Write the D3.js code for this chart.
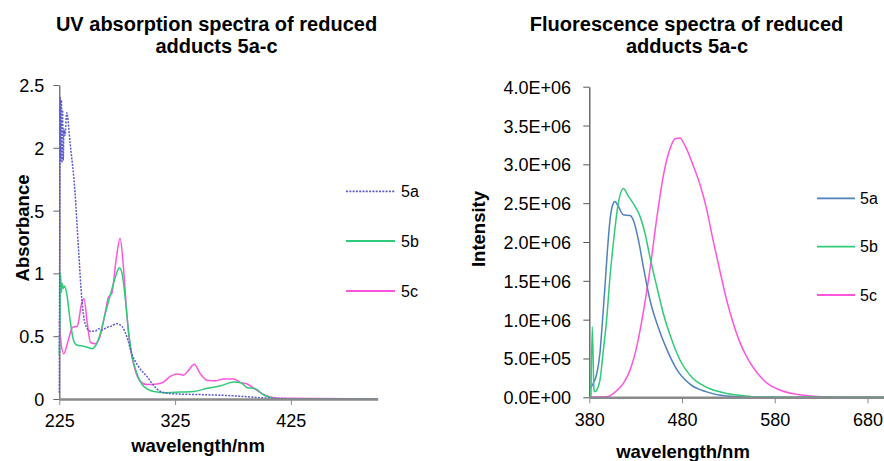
<!DOCTYPE html>
<html>
<head>
<meta charset="utf-8">
<script src="https://cdn.jsdelivr.net/npm/d3@7"></script>
<style>
  html, body { margin: 0; padding: 0; background: #fff; }
  svg { display: block; }
  text { font-family: "Liberation Sans", Arial, sans-serif; fill: #000; }
</style>
</head>
<body>
<svg id="chart" width="884" height="461"></svg>
<script>
// ---------------- DATA ----------------
const seriesNames = ["5a", "5b", "5c"];

// UV absorption (left chart)
const uvWl5a  = [225, 225.3, 225.8, 226.3, 226.8, 227.3, 227.8, 228.4, 229, 230, 231.4, 234.3, 238.6, 241.5, 244.5, 247.3, 251.7, 255.9, 258.8, 262, 266, 270, 274.6, 278.9, 283.2, 287.6, 293.3, 300.6, 308.2, 315.4, 327, 347, 376, 399.5, 420, 450, 500];
const uvAbs5a = [0.05, 1.0, 2.4, 1.9, 2.38, 1.88, 2.3, 1.9, 2.15, 2.1, 2.28, 2.04, 1.64, 1.21, 0.79, 0.60, 0.54, 0.54, 0.56, 0.55, 0.57, 0.58, 0.60, 0.58, 0.50, 0.36, 0.26, 0.18, 0.09, 0.05, 0.04, 0.035, 0.025, 0.01, 0.003, 0.002, 0.0];

const uvWl5b  = [225, 225.5, 226, 226.8, 227.5, 228.5, 229.5, 231.4, 234.3, 237.2, 240.1, 245.9, 250, 253.1, 256, 260.4, 264.7, 269.1, 273.4, 276.9, 279.2, 282.1, 285, 287.9, 292.2, 298, 306.7, 318.2, 329.8, 341.3, 352.9, 364.4, 376, 381.8, 387.5, 393.3, 402, 410.6, 420, 500];
const uvAbs5b = [0.35, 0.65, 1.0, 0.85, 0.92, 0.88, 0.9, 0.84, 0.63, 0.47, 0.43, 0.42, 0.41, 0.40, 0.42, 0.52, 0.68, 0.83, 0.97, 1.045, 1.0, 0.79, 0.52, 0.34, 0.20, 0.10, 0.06, 0.05, 0.055, 0.06, 0.085, 0.106, 0.135, 0.13, 0.09, 0.085, 0.03, 0.005, 0.0, 0.0];

const uvWl5c  = [225, 226.5, 228.8, 232.8, 236.5, 240.5, 244.3, 246.3, 249.2, 252, 255.9, 260.2, 264.5, 267.4, 270.3, 274.1, 277.5, 280.4, 283.3, 286.2, 290.5, 294.9, 300.6, 309.3, 315, 320.8, 326.6, 332.4, 336.7, 341.6, 346.8, 352.6, 359.8, 367, 375.7, 381.5, 387.3, 393, 401.7, 410.4, 422, 500];
const uvAbs5c = [0.62, 0.45, 0.36, 0.47, 0.57, 0.58, 0.76, 0.80, 0.60, 0.45, 0.44, 0.50, 0.68, 0.81, 0.84, 1.11, 1.28, 1.05, 0.68, 0.42, 0.23, 0.14, 0.115, 0.12, 0.135, 0.18, 0.20, 0.19, 0.23, 0.276, 0.20, 0.15, 0.145, 0.16, 0.16, 0.13, 0.12, 0.085, 0.035, 0.01, 0.005, 0.0];

const uvXTicks = [225, 325, 425];
const uvYTicks = [0, 0.5, 1, 1.5, 2, 2.5];
const uvYTickLabels = ["0", "0.5", "1", "1.5", "2", "2.5"];

// Fluorescence (right chart)
const flWl5a  = [380.8, 384.3, 388, 391.5, 394, 396.9, 399.6, 402.3, 405, 407.7, 411.3, 416.7, 423.9, 427.5, 432.9, 438.3, 445.5, 454.4, 463.5, 474.3, 488.6, 506.6, 528.2, 546, 600, 700];
const flInt5a = [0.12e6, 0.18e6, 0.30e6, 0.57e6, 0.95e6, 1.43e6, 1.90e6, 2.28e6, 2.47e6, 2.52e6, 2.46e6, 2.35e6, 2.34e6, 2.28e6, 2.03e6, 1.68e6, 1.25e6, 0.90e6, 0.62e6, 0.36e6, 0.17e6, 0.07e6, 0.017e6, 0.005e6, 0, 0];

const flWl5b  = [381.8, 383.2, 385.1, 386.1, 387.2, 391.5, 395.1, 398.7, 402.3, 405.9, 411.3, 416.7, 422.1, 429.3, 434.7, 440.1, 445.5, 452.7, 459.8, 468.9, 477.8, 492.2, 503, 510.2, 528.2, 546.1, 560, 600, 700];
const flInt5b = [0, 0.91e6, 0.09e6, 0.07e6, 0.08e6, 0.22e6, 0.60e6, 1.0e6, 1.55e6, 1.98e6, 2.5e6, 2.69e6, 2.59e6, 2.46e6, 2.33e6, 2.11e6, 1.80e6, 1.43e6, 1.08e6, 0.74e6, 0.48e6, 0.24e6, 0.15e6, 0.11e6, 0.05e6, 0.02e6, 0.005e6, 0, 0];

const flWl5c  = [380, 390, 400, 405, 410, 416.7, 423.9, 431.1, 438.3, 445.5, 452.7, 459.8, 467, 472.5, 477.8, 483.2, 492.2, 499.4, 506.6, 513, 521, 528.2, 535.3, 542, 549.8, 557, 564.1, 572, 582.1, 600, 618, 636, 660, 700];
const flInt5c = [0, 0.005e6, 0.01e6, 0.04e6, 0.09e6, 0.18e6, 0.35e6, 0.65e6, 1.1e6, 1.65e6, 2.3e6, 2.85e6, 3.2e6, 3.33e6, 3.34e6, 3.24e6, 2.98e6, 2.74e6, 2.42e6, 2.05e6, 1.62e6, 1.25e6, 0.95e6, 0.72e6, 0.52e6, 0.38e6, 0.27e6, 0.18e6, 0.11e6, 0.045e6, 0.018e6, 0.006e6, 0.001e6, 0];

const flXTicks = [380, 480, 580, 680];
const flYTicks = [0, 0.5e6, 1e6, 1.5e6, 2e6, 2.5e6, 3e6, 3.5e6, 4e6];
const flYTickLabels = ["0.0E+00", "5.0E+05", "1.0E+06", "1.5E+06", "2.0E+06", "2.5E+06", "3.0E+06", "3.5E+06", "4.0E+06"];

const uvTitle = ["UV absorption spectra of reduced", "adducts 5a-c"];
const flTitle = ["Fluorescence spectra of reduced", "adducts 5a-c"];
const xAxisTitle = "wavelength/nm";
const uvYAxisTitle = "Absorbance";
const flYAxisTitle = "Intensity";

// ---------------- STYLE ----------------
const TICK_FS = 18, LEG_FS = 16, TITLE_FS = 20, AXT_FS = 18.5;
const uvColors = { "5a": "#5a5ad0", "5b": "#2fcb78", "5c": "#ff55dd" };
const flColors = { "5a": "#4f81bd", "5b": "#2fcb78", "5c": "#ff55dd" };

const svg = d3.select("#chart");

function addText(parent, x, y, str, opt = {}) {
  const fs = opt.size || 14;
  const g = parent.append("g")
    .attr("transform", `translate(${x},${y}) rotate(${opt.rotate || 0})`);
  const t = g.append("text")
    .attr("text-anchor", opt.anchor || "middle")
    .attr("dy", opt.dy || "0")
    .style("font-size", fs + "px")
    .style("font-weight", opt.bold ? "bold" : "normal")
    .text(str);
  if (opt.bg) {
    const b = t.node().getBBox();
    const base = 0.36 * fs;
    g.insert("rect", "text")
      .attr("x", b.x - 2).attr("y", base - 0.76 * fs - 1)
      .attr("width", b.width + 4).attr("height", 0.76 * fs + 0.8)
      .attr("fill", "#fff");
  }
  return g;
}

function styleAxis(g, color, width) {
  g.select(".domain").attr("stroke", color).attr("stroke-width", width);
  g.selectAll(".tick line").attr("stroke", color).attr("stroke-width", 1);
  g.selectAll(".tick text")
    .style("font-family", '"Liberation Sans", Arial, sans-serif')
    .style("font-size", TICK_FS + "px").attr("fill", "#000");
}

// ---------------- LEFT CHART ----------------
const uvX = d3.scaleLinear().domain([225, 500]).range([59.3, 377.7]);
const uvY = d3.scaleLinear().domain([0, 2.5]).range([399, 85]);

const left = svg.append("g");

const uvYAxisG = left.append("g").attr("transform", `translate(${uvX(225)},0)`)
  .call(d3.axisLeft(uvY).tickValues(uvYTicks).tickSize(6).tickSizeOuter(0)
    .tickFormat((d, i) => uvYTickLabels[i]));
styleAxis(uvYAxisG, "#666", 1.3);
uvYAxisG.selectAll(".tick text").attr("x", -15).attr("dy", "0.36em");

const uvSets = {
  "5a": d3.zip(uvWl5a, uvAbs5a),
  "5b": d3.zip(uvWl5b, uvAbs5b),
  "5c": d3.zip(uvWl5c, uvAbs5c)
};
const uvLine = d3.line().x(d => uvX(d[0])).y(d => uvY(d[1])).curve(d3.curveMonotoneX);
["5c", "5b", "5a"].forEach(k => {
  left.append("path").datum(uvSets[k])
    .attr("d", uvLine)
    .attr("fill", "none")
    .attr("stroke", uvColors[k])
    .attr("stroke-width", 1.5)
    .attr("stroke-dasharray", k === "5a" ? "2,1.3" : null);
});

const uvXAxisG = left.append("g").attr("transform", `translate(0,${uvY(0)})`)
  .call(d3.axisBottom(uvX).tickValues(uvXTicks).tickSize(6).tickSizeOuter(0)
    .tickFormat(d3.format("d")));
styleAxis(uvXAxisG, "#8a8a8a", 2.5);
uvXAxisG.selectAll(".tick text").attr("y", 28).attr("dy", "0");

seriesNames.forEach((k, i) => {
  const ly = [191.3, 241, 291][i];
  left.append("line")
    .attr("x1", 346).attr("x2", 395).attr("y1", ly).attr("y2", ly)
    .attr("stroke", uvColors[k]).attr("stroke-width", 1.8)
    .attr("stroke-dasharray", k === "5a" ? "2,1.3" : null);
  addText(left, 401, ly, k, { anchor: "start", dy: "0.36em", size: LEG_FS });
});

addText(left, 216.5, 31, uvTitle[0], { bold: true, size: TITLE_FS });
addText(left, 216.5, 53, uvTitle[1], { bold: true, size: TITLE_FS });
addText(left, 198, 452, xAxisTitle, { bold: true, size: AXT_FS });
addText(left, 22, 228, uvYAxisTitle, { bold: true, size: AXT_FS, rotate: -90, dy: "0.36em", bg: true });

// ---------------- RIGHT CHART ----------------
const flX = d3.scaleLinear().domain([380, 700]).range([589.3, 886]);
const flY = d3.scaleLinear().domain([0, 4e6]).range([397.3, 86.7]);

const right = svg.append("g");

const flYAxisG = right.append("g").attr("transform", `translate(${flX(380)},0)`)
  .call(d3.axisLeft(flY).tickValues(flYTicks).tickSize(6).tickSizeOuter(0)
    .tickFormat((d, i) => flYTickLabels[i]));
styleAxis(flYAxisG, "#555", 1.3);
flYAxisG.selectAll(".tick text").attr("x", -18.3).attr("dy", "0.36em");

const flSets = {
  "5a": d3.zip(flWl5a, flInt5a),
  "5b": d3.zip(flWl5b, flInt5b),
  "5c": d3.zip(flWl5c, flInt5c)
};
const flLine = d3.line().x(d => flX(d[0])).y(d => flY(d[1])).curve(d3.curveMonotoneX);
["5c", "5a", "5b"].forEach(k => {
  right.append("path").datum(flSets[k])
    .attr("d", flLine)
    .attr("fill", "none")
    .attr("stroke", flColors[k])
    .attr("stroke-width", 1.5);
});

const flXAxisG = right.append("g").attr("transform", `translate(0,${flY(0)})`)
  .call(d3.axisBottom(flX).tickValues(flXTicks).tickSize(6).tickSizeOuter(0)
    .tickFormat(d3.format("d")));
styleAxis(flXAxisG, "#8a8a8a", 2.5);
flXAxisG.selectAll(".tick text").attr("y", 29).attr("dy", "0");

seriesNames.forEach((k, i) => {
  const ly = [198.3, 246.7, 295][i];
  right.append("line")
    .attr("x1", 817).attr("x2", 855).attr("y1", ly).attr("y2", ly)
    .attr("stroke", flColors[k]).attr("stroke-width", 1.8);
  addText(right, 860, ly, k, { anchor: "start", dy: "0.36em", size: LEG_FS });
});

addText(right, 686.5, 31, flTitle[0], { bold: true, size: TITLE_FS });
addText(right, 687, 53, flTitle[1], { bold: true, size: TITLE_FS });
addText(right, 683, 458, xAxisTitle, { bold: true, size: AXT_FS });
addText(right, 478.5, 229, flYAxisTitle, { bold: true, size: AXT_FS, rotate: -90, dy: "0.36em" });
</script>
</body>
</html>
